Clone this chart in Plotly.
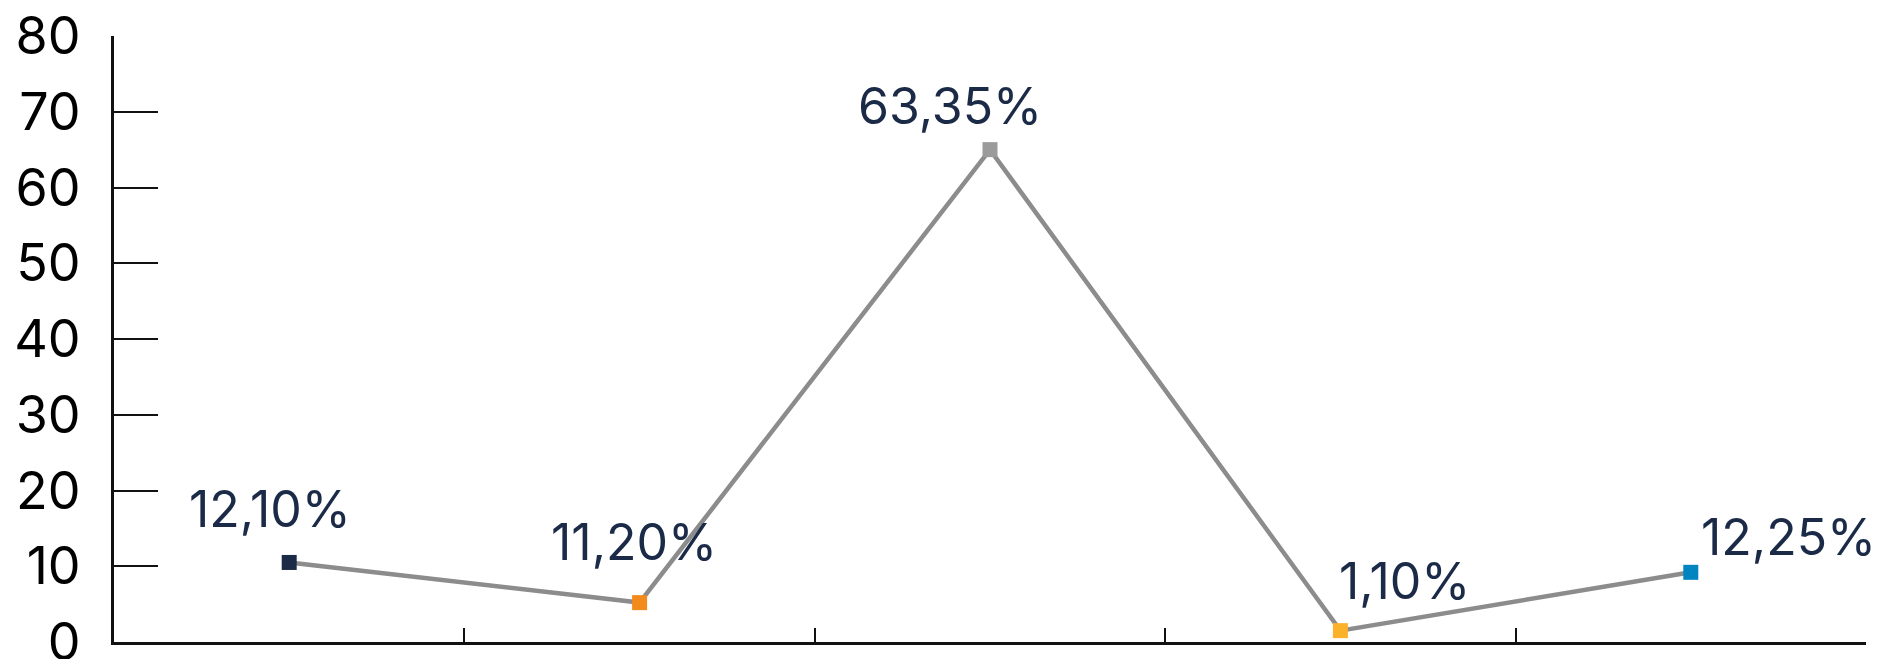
import plotly.graph_objects as go

categories = ["C1", "C2", "C3", "C4", "C5"]
plotted_values = [10.5, 5.2, 65.0, 1.5, 9.2]
value_labels = ["12,10%", "11,20%", "63,35%", "1,10%", "12,25%"]
marker_colors = ["#1b2a47", "#f28a1c", "#9b9b9b", "#fbb22a", "#0085c0"]
y_ticks = [0, 10, 20, 30, 40, 50, 60, 70, 80]

# label offsets (style): pixels relative to each marker
label_dx = [-19, -6, -40, 64, 98]
label_dy = [53, 61, 44, 50, 35]

fig = go.Figure()
fig.add_trace(go.Scatter(
    x=categories, y=plotted_values, mode="lines+markers",
    line=dict(color="#8c8c8c", width=4.5),
    marker=dict(symbol="square", size=15, color=marker_colors, line=dict(width=0)),
    showlegend=False, cliponaxis=False,
))

for c, v, t, dx, dy in zip(categories, plotted_values, value_labels, label_dx, label_dy):
    fig.add_annotation(x=c, y=v, text=t, showarrow=False, xanchor="center", yanchor="middle",
                       xshift=dx, yshift=dy,
                       font=dict(family="Inter", size=50, color="#1b2a47"))

fig.update_xaxes(
    type="category", showticklabels=False, showgrid=False, zeroline=False,
    showline=True, linecolor="#111111", linewidth=3,
    ticks="inside", tickson="boundaries", ticklen=14, tickwidth=2, tickcolor="#111111",
    range=[-0.5, 4.5], automargin=False,
)
fig.update_yaxes(
    range=[0, 80], tickvals=y_ticks, showgrid=False, zeroline=False,
    showline=True, linecolor="#111111", linewidth=3,
    ticks="inside", ticklen=44, tickwidth=2, tickcolor="#111111",
    tickfont=dict(family="Inter", size=52, color="#000000"),
    ticklabelstandoff=20, ticklabeloverflow="allow", automargin=False,
)
fig.update_layout(
    width=1872, height=651,
    margin=dict(l=106, r=14, t=28, b=17, autoexpand=False),
    plot_bgcolor="white", paper_bgcolor="white",
)
fig.write_html("out.html")
